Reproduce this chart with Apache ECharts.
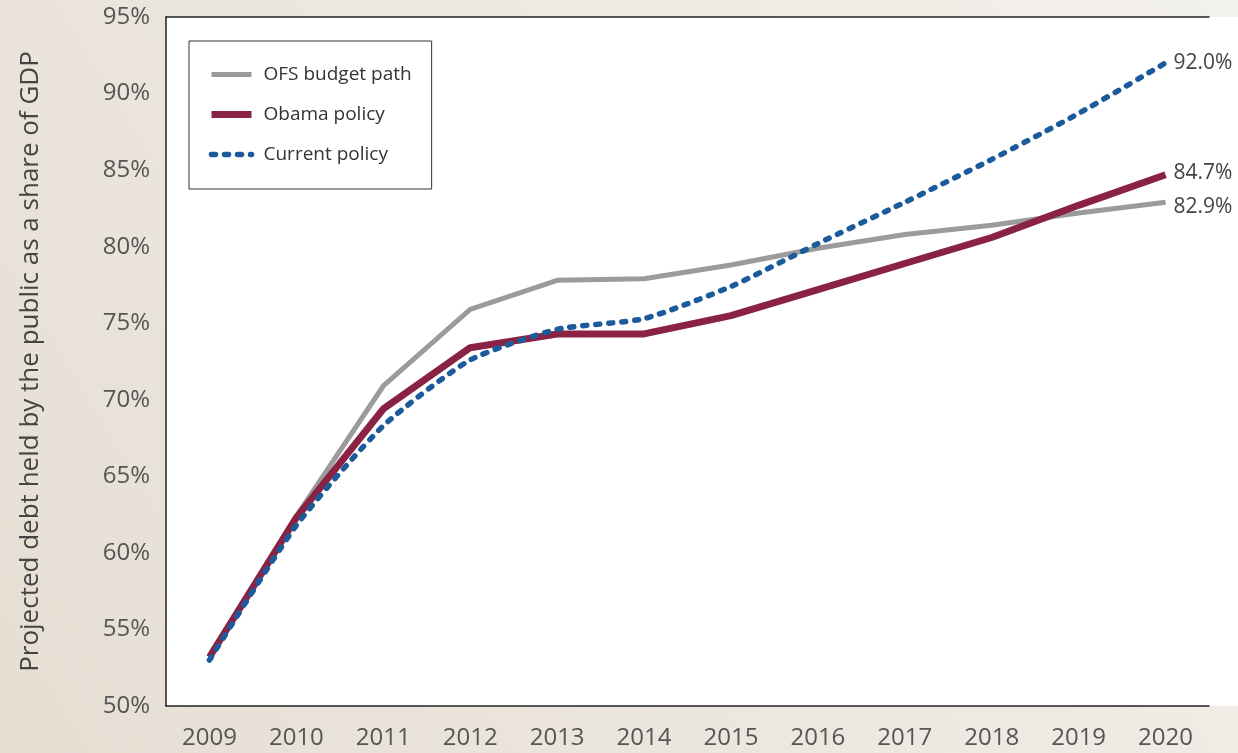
<!DOCTYPE html>
<html>
<head>
<meta charset="utf-8">
<script src="https://cdn.jsdelivr.net/npm/echarts@6/dist/echarts.min.js"></script>
<style>
  html, body { margin: 0; padding: 0; }
  #main { width: 1238px; height: 753px; }
</style>
</head>
<body>
<div id="main"></div>
<script>
  // years on the x axis
  var years = ['2009', '2010', '2011', '2012', '2013', '2014', '2015', '2016', '2017', '2018', '2019', '2020']
  // debt as % of GDP
  var ofsPath = [53.2, 62.4, 70.9, 75.9, 77.8, 77.9, 78.8, 79.9, 80.8, 81.4, 82.2, 82.9]
  var obamaPolicy = [53.2, 62.3, 69.4, 73.4, 74.3, 74.3, 75.5, 77.2, 78.9, 80.6, 82.7, 84.7]
  var currentPolicy = [53.0, 61.8, 68.3, 72.6, 74.6, 75.3, 77.4, 80.2, 82.9, 85.7, 88.7, 92.0]

  var font = '"Open Sans", "Noto Sans", sans-serif'
  function endLabel(dy) {
    return {
      show: true,
      distance: 8,
      offset: [0, dy],
      fontFamily: font,
      fontSize: 21,
      color: '#444',
      formatter: function (p) { return p.value.toFixed(1) + '%' }
    }
  }

  var chart = echarts.init(document.getElementById('main'))
  chart.setOption({
    backgroundColor: {
      type: 'linear',
      x: 0, y: 1, x2: 1, y2: 0,
      colorStops: [
        { offset: 0, color: '#e6ded3' },
        { offset: 1, color: '#f3f1ec' }
      ]
    },
    animation: false,
    graphic: [{
      type: 'rect',
      z: -10,
      shape: { x: 166, y: 17, width: 1072, height: 689 },
      style: { fill: '#ffffff' }
    }],
    grid: {
      left: 166,
      right: 29,
      top: 17,
      bottom: 47
    },
    legend: {
      orient: 'vertical',
      left: 189,
      top: 41,
      padding: [24, 20, 25, 19],
      itemGap: 21,
      itemWidth: 40,
      itemHeight: 20,
      backgroundColor: '#fff',
      borderColor: '#333',
      borderWidth: 1,
      itemStyle: { opacity: 0 },
      lineStyle: { width: 'inherit' },
      textStyle: { fontFamily: font, fontSize: 19, color: '#333', padding: [0, 0, 0, 7] },
      data: ['OFS budget path', 'Obama policy', 'Current policy']
    },
    xAxis: [{
      type: 'category',
      data: years,
      boundaryGap: true,
      axisLine: { lineStyle: { color: '#222', width: 1.5 } },
      axisTick: { show: false },
      axisLabel: { fontFamily: font, fontSize: 24, color: '#555', margin: 20 }
    }, {
      type: 'category',
      position: 'top',
      data: years,
      axisLine: { lineStyle: { color: '#222', width: 1.5 } },
      axisTick: { show: false },
      axisLabel: { show: false }
    }],
    yAxis: {
      type: 'value',
      min: 50,
      max: 95,
      interval: 5,
      name: 'Projected debt held by the public as a share of GDP',
      nameLocation: 'middle',
      nameRotate: 90,
      nameGap: 122,
      nameTextStyle: { fontFamily: font, fontSize: 26, color: '#444' },
      axisLine: { show: true, lineStyle: { color: '#222', width: 1.5 } },
      axisTick: { show: false },
      splitLine: { show: false },
      axisLabel: { fontFamily: font, fontSize: 24, color: '#555', margin: 16, formatter: '{value}%' }
    },
    series: [{
      name: 'OFS budget path',
      type: 'line',
      data: ofsPath,
      symbol: 'none',
      z: 2,
      lineStyle: { color: '#9b9b9e', width: 5 },
      itemStyle: { color: '#9b9b9e' },
      endLabel: endLabel(5)
    }, {
      name: 'Obama policy',
      type: 'line',
      data: obamaPolicy,
      symbol: 'none',
      z: 3,
      lineStyle: { color: '#8a2343', width: 7 },
      itemStyle: { color: '#8a2343' },
      endLabel: endLabel(-2)
    }, {
      name: 'Current policy',
      type: 'line',
      data: currentPolicy,
      symbol: 'none',
      smooth: 0.2,
      z: 4,
      lineStyle: { color: '#1b5b9b', width: 5.5, type: [4, 9], cap: 'round' },
      itemStyle: { color: '#1b5b9b' },
      endLabel: endLabel(0)
    }]
  })
</script>
</body>
</html>
